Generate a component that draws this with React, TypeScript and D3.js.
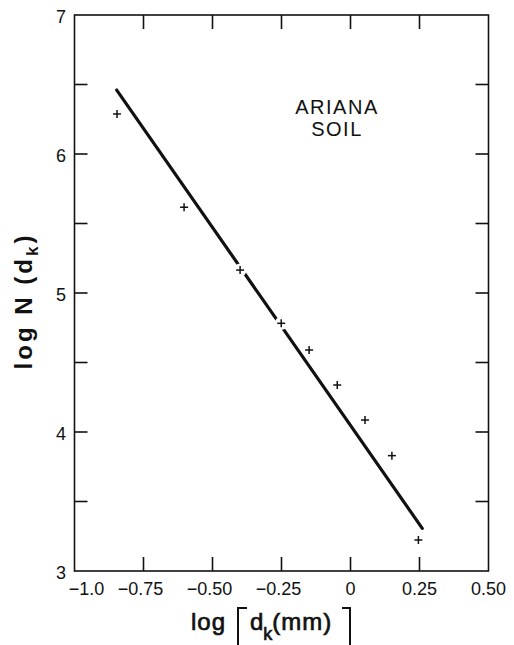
import React from "react";
import * as d3 from "d3";

const pointX = [-0.846, -0.603, -0.4, -0.251, -0.15, -0.048, 0.0525, 0.15, 0.246];
const pointY = [6.288, 5.617, 5.165, 4.782, 4.59, 4.338, 4.086, 3.83, 3.223];
const fitX = [-0.847, 0.26];
const fitY = [6.46, 3.307];
const xTickValues = [-1.0, -0.75, -0.5, -0.25, 0, 0.25, 0.5];
const xTickLabels = ["\u22121.0", "\u22120.75", "\u22120.50", "\u22120.25", "0", "0.25", "0.50"];
const yTickValues = [3, 4, 5, 6, 7];
const yTickLabels = ["3", "4", "5", "6", "7"];
const yMinorTicks = [3.5, 4, 4.5, 5, 5.5, 6, 6.5];
const xInnerTicks = [-0.75, -0.5, -0.25, 0, 0.25];

const W = 514;
const H = 645;
const font = "'Liberation Sans', Arial, sans-serif";

export default function App() {
  const x = d3.scaleLinear().domain([-1, 0.5]).range([74.5, 488.5]);
  const y = d3.scaleLinear().domain([3, 7]).range([571, 15]);
  const line = d3
    .line<number>()
    .x((_, i) => x(fitX[i]))
    .y((_, i) => y(fitY[i]));
  const [x0, x1] = x.range();
  const [yb, yt] = y.range();

  return (
    <svg
      width={W}
      height={H}
      style={{ position: "absolute", left: 0, top: 0, background: "#fff" }}
      fontFamily={font}
    >
      <rect x={0} y={0} width={W} height={H} fill="#fff" />
      {/* frame */}
      <rect x={x0} y={yt} width={x1 - x0} height={yb - yt} fill="none" stroke="#111" strokeWidth={1.6} />
      {/* x ticks (inward, top and bottom) */}
      {xInnerTicks.map((v) => (
        <g key={"xt" + v}>
          <line x1={x(v)} x2={x(v)} y1={yb} y2={yb - 14} stroke="#111" strokeWidth={1.6} />
          <line x1={x(v)} x2={x(v)} y1={yt} y2={yt + 14} stroke="#111" strokeWidth={1.6} />
        </g>
      ))}
      {/* y ticks (inward, left and right) */}
      {yMinorTicks.map((v) => (
        <g key={"yt" + v}>
          <line x1={x0} x2={x0 + 13} y1={y(v)} y2={y(v)} stroke="#111" strokeWidth={1.6} />
          <line x1={x1} x2={x1 - 13} y1={y(v)} y2={y(v)} stroke="#111" strokeWidth={1.6} />
        </g>
      ))}
      {/* x tick labels */}
      {xTickValues.map((v, i) => (
        <text
          key={"xl" + v}
          x={i === 0 ? x(v) + 12 : x(v) - (v < 0 ? 3 : 0)}
          y={595}
          textAnchor="middle"
          fontSize={18}
          fill="#111"
        >
          {xTickLabels[i]}
        </text>
      ))}
      {/* y tick labels */}
      {yTickValues.map((v, i) => (
        <text key={"yl" + v} x={66} y={y(v) + 8} textAnchor="end" fontSize={18} fill="#111">
          {yTickLabels[i]}
        </text>
      ))}
      {/* fit line */}
      <path d={line(fitX) || ""} fill="none" stroke="#111" strokeWidth={3.2} strokeLinecap="round" />
      {/* markers with white halo */}
      {pointX.map((v, i) => (
        <circle key={"h" + i} cx={x(v)} cy={y(pointY[i])} r={6.5} fill="#fff" />
      ))}
      {pointX.map((v, i) => {
        const cx = x(v);
        const cy = y(pointY[i]);
        return (
          <g key={"p" + i} stroke="#111" strokeWidth={1.5}>
            <line x1={cx - 4} x2={cx + 4} y1={cy} y2={cy} />
            <line x1={cx} x2={cx} y1={cy - 4} y2={cy + 4} />
          </g>
        );
      })}
      {/* annotation */}
      <text x={337} y={114} textAnchor="middle" fontSize={20} letterSpacing={1.5} fill="#111">
        ARIANA
      </text>
      <text x={337} y={136} textAnchor="middle" fontSize={20} letterSpacing={1.5} fill="#111">
        SOIL
      </text>
      {/* y axis title */}
      <text
        transform="translate(32,301) rotate(-90)"
        textAnchor="middle"
        fontSize={24}
        fontWeight="bold"
        letterSpacing={3}
        fill="#111"
      >
        log N (d
        <tspan fontSize={17} dy={6}>k</tspan>
        <tspan dy={-6}>)</tspan>
      </text>
      {/* x axis title */}
      <text x={191} y={630} fontSize={24} fill="#111" stroke="#111" strokeWidth={0.7} letterSpacing={1}>
        log
      </text>
      <path d="M238,645 V608 H247" fill="none" stroke="#111" strokeWidth={2} />
      <text x={250} y={630} fontSize={24} fill="#111" stroke="#111" strokeWidth={0.7}>
        d
        <tspan fontSize={18} dy={10}>k</tspan>
        <tspan dy={-10} letterSpacing={1}>(mm)</tspan>
      </text>
      <path d="M342,608 H350 V645" fill="none" stroke="#111" strokeWidth={2} />
    </svg>
  );
}
